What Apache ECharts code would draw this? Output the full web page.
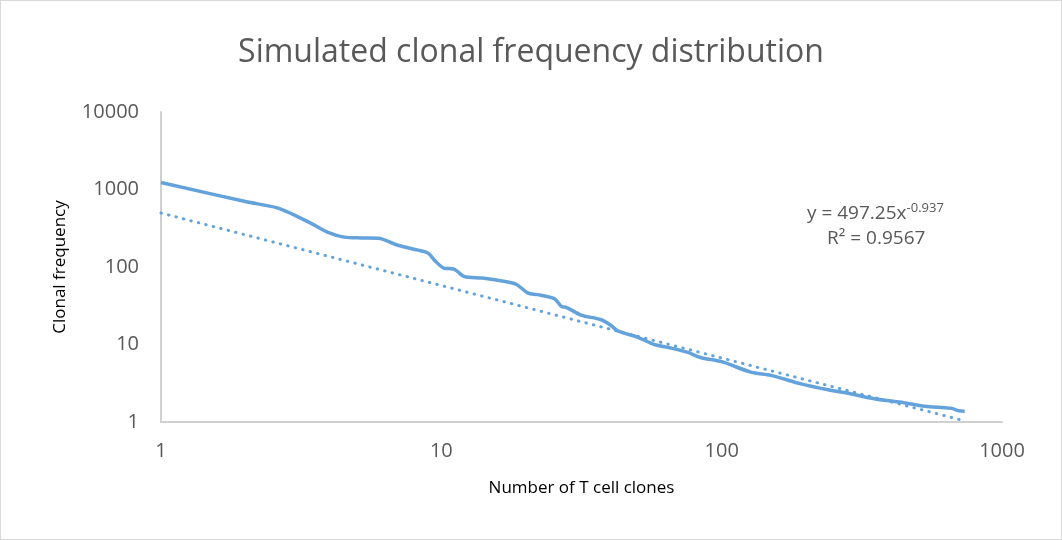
<!DOCTYPE html>
<html><head><meta charset="utf-8">
<script src="https://cdn.jsdelivr.net/npm/echarts@6/dist/echarts.min.js"></script>
<style>html,body{margin:0;padding:0;background:#fff}#c{width:1062px;height:540px;box-sizing:border-box;border:1px solid #d9d9d9}</style>
</head><body><div id="c"></div>
<script>
const title = 'Simulated clonal frequency distribution';
const xName = 'Number of T cell clones';
const yName = 'Clonal frequency';
const cloneRank = [1, 2, 2.6, 2.98, 3.43, 3.94, 4.5, 5.2, 5.95, 7, 8.26, 8.97, 9.5, 10.2, 11.1, 12.1, 14, 17.3, 18.5, 20.4, 22, 25.3, 26.8, 28, 31.5, 37, 40, 42.6, 50.5, 57.5, 66, 75.8, 84, 100, 127, 150, 192, 240, 290, 350, 437, 530, 658, 700, 736];
const clonalFreq = [1230, 700, 580, 470, 366, 280, 243, 237, 235, 191, 165, 151, 120, 97, 94, 75, 72, 64, 60, 46, 44, 39, 31, 30, 24, 21, 18, 15, 12.3, 10, 9, 7.9, 6.8, 6, 4.4, 4, 3.1, 2.6, 2.3, 2.0, 1.8, 1.6, 1.5, 1.4, 1.38];
const trendX = [1, 732];
const trendY = [497.25, 1.04];
const eqLine1 = 'y = 497.25x';
const eqExp = '-0.937';
const eqLine2 = 'R² = 0.9567';

const chart = echarts.init(document.getElementById('c'));
const txt = '#595959';
const fmt = v => String(Math.round(v));
chart.setOption({
  animation: false,
  title: { text: title, left: 'center', top: 31, textStyle: { fontFamily: 'Open Sans', fontWeight: 'normal', fontSize: 32, color: txt } },
  grid: { left: 160, right: 59, top: 111, bottom: 117 },
  xAxis: {
    type: 'log', logBase: 10, min: 1, max: 1000,
    name: xName, nameLocation: 'middle', nameGap: 58,
    nameTextStyle: { fontFamily: 'Open Sans', fontSize: 17, color: '#000' },
    axisLine: { lineStyle: { color: '#d0d0d0', width: 2 } },
    axisTick: { show: false }, splitLine: { show: false },
    axisLabel: { margin: 19, fontFamily: 'Open Sans', fontSize: 20, color: txt, formatter: fmt }
  },
  yAxis: {
    type: 'log', logBase: 10, min: 1, max: 10000,
    name: yName, nameLocation: 'middle', nameGap: 92, nameRotate: 90,
    nameTextStyle: { fontFamily: 'Open Sans', fontSize: 17, color: '#000' },
    axisLine: { show: true, lineStyle: { color: '#d0d0d0', width: 2 } },
    axisTick: { show: false }, splitLine: { show: false },
    axisLabel: { margin: 22, fontFamily: 'Open Sans', fontSize: 20, color: txt, formatter: fmt }
  },
  series: [
    { type: 'line', data: cloneRank.map((x, i) => [x, clonalFreq[i]]), showSymbol: false, smooth: 0.3,
      lineStyle: { color: '#63A2DA', width: 3.5 } },
    { type: 'line', data: trendX.map((x, i) => [x, trendY[i]]), showSymbol: false,
      lineStyle: { color: '#63A2DA', width: 3, type: [0.5, 7.2], cap: 'round' } }
  ],
  graphic: [
    { type: 'text', left: 806, top: 201, style: { rich: { a: { fontFamily: 'Open Sans', fontSize: 19, fill: txt }, b: { fontFamily: 'Open Sans', fontSize: 13, fill: txt, verticalAlign: 'top', padding: [0,0,10,0] } }, text: '{a|' + eqLine1 + '}{b|' + eqExp + '}' } },
    { type: 'text', left: 826, top: 228, style: { text: eqLine2, fontFamily: 'Open Sans', fontSize: 19, fill: txt } }
  ]
});
</script></body></html>
